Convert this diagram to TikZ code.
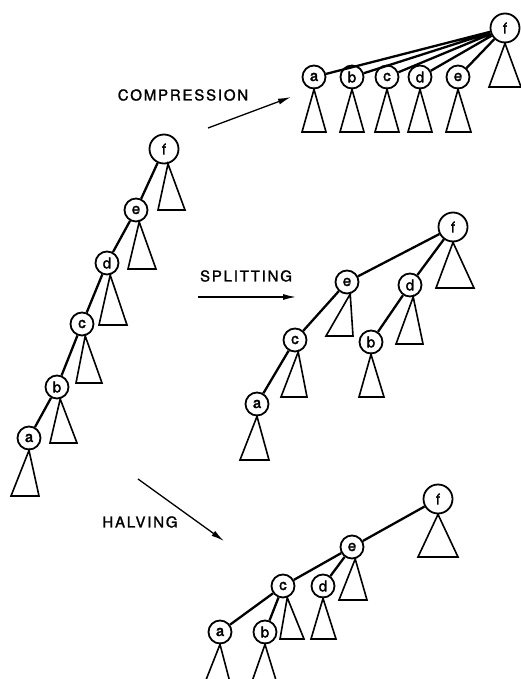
\documentclass[tikz,border=0pt]{standalone}
\usepackage{fontspec}
\setmainfont{TeX Gyre Heros}
\newfontfamily\capsfont[LetterSpace=12,FakeBold=1.5]{TeX Gyre Heros}
\newfontfamily\nodefont[FakeBold=2]{TeX Gyre Heros}
\usetikzlibrary{arrows.meta}
\newcommand\subt[5]{\draw[tri] (#1) -- (#2,#4) -- (#3,#4) -- cycle;}
\begin{document}
\begin{tikzpicture}[x=1pt,y=-1pt,
  vtx/.style={circle,draw,line width=1.8pt,minimum size=23pt,inner sep=0pt,font=\nodefont\fontsize{15}{15}\selectfont},
  root/.style={vtx,minimum size=29pt},
  edge/.style={line width=2.3pt},
  tri/.style={line width=1.6pt,line join=miter},
  op/.style={font=\capsfont\fontsize{15}{15}\selectfont,inner sep=0pt},
  arr/.style={line width=1.3pt,-{Latex[length=13pt,width=6pt]}}]
\clip (0,0) rectangle (521,679);
% ---------- left chain ----------
\node[root] (Lf) at (164,149) {f};
\node[vtx] (Le) at (136,210) {e};
\node[vtx] (Ld) at (107,263) {d};
\node[vtx] (Lc) at (82,324) {c};
\node[vtx] (Lb) at (57,387) {b};
\node[vtx] (La) at (29,438) {a};
\draw[edge] (Lf) -- (Le) (Le) -- (Ld) (Ld) -- (Lc) (Lc) -- (Lb) (Lb) -- (La);
\subt{Lf.-75}{158}{185}{210}{}
\subt{Le.-75}{128}{156}{269}{}
\subt{Ld.-75}{99}{127}{325}{}
\subt{Lc.-75}{76}{102}{383}{}
\subt{Lb.-75}{50}{77}{443}{}
\subt{La.-90}{11}{39}{496}{}
% ---------- compression ----------
\node[root] (Cf) at (505,28) {f};
\node[vtx] (Ca) at (314,77) {a};
\node[vtx] (Cb) at (352,77) {b};
\node[vtx] (Cc) at (387,77) {c};
\node[vtx] (Cd) at (420,77) {d};
\node[vtx] (Ce) at (458,77) {e};
\draw[edge] (Cf) -- (Ca) (Cf) -- (Cb) (Cf) -- (Cc) (Cf) -- (Cd) (Cf) -- (Ce);
\subt{Cf.-90}{489}{521}{87}{}
\subt{Ca.-90}{302}{326}{132}{}
\subt{Cb.-90}{340}{364}{132}{}
\subt{Cc.-90}{375}{399}{132}{}
\subt{Cd.-90}{408}{432}{132}{}
\subt{Ce.-90}{446}{471}{132}{}
% ---------- splitting ----------
\node[root] (Sf) at (453,227) {f};
\node[vtx] (Se) at (347,282) {e};
\node[vtx] (Sd) at (410,285) {d};
\node[vtx] (Sc) at (295,340) {c};
\node[vtx] (Sb) at (371,342) {b};
\node[vtx] (Sa) at (257,404) {a};
\draw[edge] (Sf) -- (Se) (Sf) -- (Sd) (Se) -- (Sc) (Sd) -- (Sb) (Sc) -- (Sa);
\subt{Sf.-90}{436}{474}{288}{}
\subt{Se.-75}{326}{353}{336}{}
\subt{Sd.-75}{396}{423}{344}{}
\subt{Sc.-75}{281}{307}{397}{}
\subt{Sb.-90}{359}{384}{397}{}
\subt{Sa.-90}{240}{269}{460}{}
% ---------- halving ----------
\node[root] (Hf) at (438,499) {f};
\node[vtx] (He) at (352,547) {e};
\node[vtx] (Hc) at (283,586) {c};
\node[vtx] (Hd) at (323,586) {d};
\node[vtx] (Ha) at (220,632) {a};
\node[vtx] (Hb) at (265,632) {b};
\draw[edge] (Hf) -- (He) (He) -- (Hc) (He) -- (Hd) (Hc) -- (Ha) (Hc) -- (Hb);
\subt{Hf.-90}{418}{458}{557}{}
\subt{He.-75}{339}{367}{600}{}
\subt{Hc.-70}{280}{304}{639}{}
\subt{Hd.-90}{311}{336}{639}{}
\subt{Ha.-90}{202}{232}{690}{}
\subt{Hb.-90}{249}{279}{690}{}
% ---------- operations ----------
\node[op] (tC) at (183,95) {COMPRESSION};
\node[op] (tS) at (246,276) {SPLITTING};
\node[op] (tH) at (140,522) {HALVING};
\coordinate (c1) at (208,128); \coordinate (c2) at (291,97);
\coordinate (s1) at (198,297); \coordinate (s2) at (296,297);
\coordinate (h1) at (138,479); \coordinate (h2) at (224,541);
\draw[arr] (c1) -- (c2);
\draw[arr] (s1) -- (s2);
\draw[arr] (h1) -- (h2);
\end{tikzpicture}
\end{document}
